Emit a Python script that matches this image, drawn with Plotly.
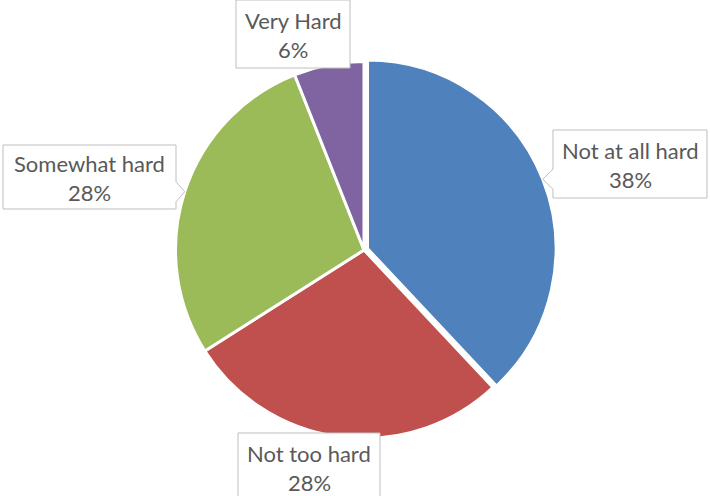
import math
import plotly.graph_objects as go

# Survey answers, clockwise from 12 o'clock
labels = ["Not at all hard", "Not too hard", "Somewhat hard", "Very Hard"]
shares = [38, 28, 28, 6]
colors = ["#4F81BD", "#C0504D", "#9BBB59", "#8064A2"]
pulls = [0.02, 0, 0, 0]

W, H = 710, 496
CX, CY = 364, 250          # pie centre, pixels from the top-left corner
R = 188.5                  # pie radius in pixels
half = R * (1 + max(pulls))
LINE_GAP = 29              # vertical distance between label lines, px


def px(x):
    return x / W


def py(y):
    return 1 - y / H


fig = go.Figure(
    go.Pie(
        labels=labels,
        values=shares,
        marker=dict(colors=colors, line=dict(color="white", width=3)),
        sort=False,
        direction="clockwise",
        rotation=0,
        pull=pulls,
        textinfo="none",
        hoverinfo="label+percent",
        showlegend=False,
        domain=dict(x=[px(CX - half), px(CX + half)],
                    y=[py(CY + half), py(CY - half)]),
    )
)

# Callout boxes (pixel rectangles) and which side carries the pointer
boxes = {
    "Not at all hard": ((553, 130, 707, 198), "left"),
    "Not too hard": ((238, 433, 380, 501), None),
    "Somewhat hard": ((3, 145, 176, 209), "right"),
    "Very Hard": ((236, 0, 350, 68), None),
}

label_font = dict(family="Lato, Open Sans, sans-serif", size=22, color="#595959")

total = sum(shares)
cum = 0
shapes, annotations = [], []
for lab, val, pull in zip(labels, shares, pulls):
    mid = (cum + val / 2) / total * 2 * math.pi
    cum += val
    rr = R + pull * R
    tx = CX + rr * math.sin(mid)
    ty = CY - rr * math.cos(mid)

    (x0, y0, x1, y1), side = boxes[lab]
    pts = [(x0, y0), (x1, y0)]
    if side == "right":
        pts += [(x1, ty - 10), (tx, ty), (x1, ty + 10)]
    pts += [(x1, y1), (x0, y1)]
    if side == "left":
        pts += [(x0, ty + 10), (tx, ty), (x0, ty - 10)]
    path = "M " + " L ".join(f"{px(a):.5f},{py(b):.5f}" for a, b in pts) + " Z"
    shapes.append(dict(type="path", xref="paper", yref="paper", path=path,
                       line=dict(color="#BFBFBF", width=1), fillcolor="white",
                       layer="above"))

    cx_box = (x0 + x1) / 2
    cy_box = (y0 + y1) / 2 + 1
    for text, dy in ((lab, -LINE_GAP / 2), (f"{val / total * 100:.0f}%", LINE_GAP / 2)):
        annotations.append(dict(
            x=px(cx_box), y=py(cy_box + dy),
            xref="paper", yref="paper", xanchor="center", yanchor="middle",
            showarrow=False, text=text, font=label_font,
        ))

fig.update_layout(
    width=W, height=H,
    margin=dict(l=0, r=0, t=0, b=0),
    paper_bgcolor="white",
    plot_bgcolor="white",
    shapes=shapes,
    annotations=annotations,
)

fig.write_html("out.html")
